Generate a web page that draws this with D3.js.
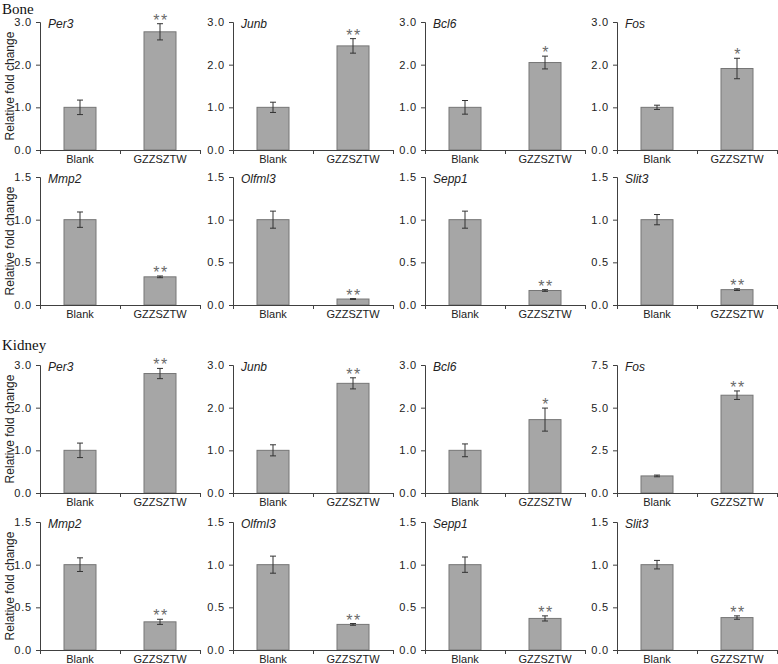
<!DOCTYPE html>
<html><head><meta charset="utf-8">
<script src="https://cdn.jsdelivr.net/npm/d3@7"></script>
<style>body{margin:0;background:#fff}</style>
</head><body>
<svg id="c" width="778" height="664"></svg>
<script>
const categories = ["Blank", "GZZSZTW"];
const genes = ["Per3", "Junb", "Bcl6", "Fos", "Mmp2", "Olfml3", "Sepp1", "Slit3"];
const sections = ["Bone", "Kidney"];

const boneBlank    = [1.00, 1.00, 1.00, 1.00, 1.00, 1.00, 1.00, 1.00];
const boneBlankErr = [0.17, 0.12, 0.16, 0.05, 0.09, 0.10, 0.10, 0.06];
const boneGZZ      = [2.77, 2.44, 2.05, 1.91, 0.33, 0.07, 0.17, 0.18];
const boneGZZErr   = [0.19, 0.17, 0.15, 0.24, 0.01, 0.005, 0.01, 0.01];
const boneSig      = ["**", "**", "*", "*", "**", "**", "**", "**"];
const boneYMax     = [3.0, 3.0, 3.0, 3.0, 1.5, 1.5, 1.5, 1.5];

const kidneyBlank    = [1.00, 1.00, 1.00, 1.00, 1.00, 1.00, 1.00, 1.00];
const kidneyBlankErr = [0.17, 0.13, 0.15, 0.05, 0.08, 0.10, 0.09, 0.05];
const kidneyGZZ      = [2.80, 2.57, 1.72, 5.73, 0.33, 0.30, 0.37, 0.38];
const kidneyGZZErr   = [0.12, 0.13, 0.27, 0.25, 0.03, 0.01, 0.03, 0.02];
const kidneySig      = ["**", "**", "*", "**", "**", "**", "**", "**"];
const kidneyYMax     = [3.0, 3.0, 3.0, 7.5, 1.5, 1.5, 1.5, 1.5];

const yTickSets = {"3": [0, 1, 2, 3], "1.5": [0, 0.5, 1, 1.5], "7.5": [0, 2.5, 5, 7.5]};
const yLabel = "Relative fold change";

const svg = d3.select("#c");
const colX = [40, 233, 425, 617];
const rowTop = [22, 177, 365, 522];
const plotW = 160, plotH = 128;
const sectionLabelY = [14, 350];

const sectionData = [
  {blank: boneBlank, blankErr: boneBlankErr, gzz: boneGZZ, gzzErr: boneGZZErr, sig: boneSig, ymax: boneYMax},
  {blank: kidneyBlank, blankErr: kidneyBlankErr, gzz: kidneyGZZ, gzzErr: kidneyGZZErr, sig: kidneySig, ymax: kidneyYMax}
];

sections.forEach((sec, si) => {
  svg.append("text").attr("x", 2).attr("y", sectionLabelY[si])
    .attr("font-family", "Liberation Serif, Times New Roman, serif")
    .attr("font-size", 15).attr("fill", "#111").text(sec);
  const sd = sectionData[si];
  genes.forEach((g, gi) => {
    const row = si * 2 + Math.floor(gi / 4);
    const col = gi % 4;
    const gx = colX[col], gy = rowTop[row];
    const p = svg.append("g").attr("transform", `translate(${gx},${gy})`);
    const x = d3.scaleBand().domain(categories).range([0, plotW]).paddingInner(0.6).paddingOuter(0.3);
    const y = d3.scaleLinear().domain([0, sd.ymax[gi]]).range([plotH, 0]);
    const vals = [sd.blank[gi], sd.gzz[gi]];
    const errs = [sd.blankErr[gi], sd.gzzErr[gi]];

    // bars
    p.selectAll("rect.bar").data(categories).join("rect")
      .attr("x", d => x(d)).attr("width", x.bandwidth())
      .attr("y", (d, i) => y(vals[i])).attr("height", (d, i) => plotH - y(vals[i]))
      .attr("fill", "#a6a6a6").attr("stroke", "#767676").attr("stroke-width", 1);

    // error bars
    const eb = p.selectAll("g.err").data(categories).join("g");
    eb.append("line")
      .attr("x1", d => x(d) + x.bandwidth() / 2).attr("x2", d => x(d) + x.bandwidth() / 2)
      .attr("y1", (d, i) => y(vals[i] + errs[i])).attr("y2", (d, i) => y(vals[i] - errs[i]))
      .attr("stroke", "#333").attr("stroke-width", 1);
    ["+", "-"].forEach(s => {
      eb.append("line")
        .attr("x1", d => x(d) + x.bandwidth() / 2 - 3).attr("x2", d => x(d) + x.bandwidth() / 2 + 3)
        .attr("y1", (d, i) => y(s === "+" ? vals[i] + errs[i] : vals[i] - errs[i]))
        .attr("y2", (d, i) => y(s === "+" ? vals[i] + errs[i] : vals[i] - errs[i]))
        .attr("stroke", "#333").attr("stroke-width", 1);
    });

    // significance
    p.append("text")
      .attr("x", x("GZZSZTW") + x.bandwidth() / 2 + 1)
      .attr("y", y(vals[1] + errs[1]) + 2)
      .attr("text-anchor", "middle")
      .attr("font-family", "Liberation Sans, Arial, sans-serif")
      .attr("font-size", 16).attr("letter-spacing", 1.5)
      .attr("fill", "#6a6a6a").text(sd.sig[gi]);

    // y axis
    const ticks = yTickSets[String(sd.ymax[gi])];
    const ya = d3.axisLeft(y).tickValues(ticks).tickFormat(d3.format(".1f")).tickSize(4).tickPadding(4);
    const yg = p.append("g").call(ya);
    yg.select(".domain").attr("stroke", "#404040").attr("d", `M-4,0.5H0.5V${plotH}`);
    yg.selectAll(".tick line").attr("stroke", "#404040");
    yg.selectAll("text").attr("font-family", "Liberation Sans, Arial, sans-serif")
      .attr("font-size", 11).attr("letter-spacing", 0.8).attr("fill", "#222");

    // x axis
    const xg = p.append("g").attr("transform", `translate(0,${plotH})`);
    xg.append("line").attr("x1", 0).attr("x2", plotW).attr("y1", 0.5).attr("y2", 0.5).attr("stroke", "#404040");
    xg.selectAll("line.t").data([0, plotW / 2, plotW]).join("line")
      .attr("x1", d => d + 0.5).attr("x2", d => d + 0.5).attr("y1", 0).attr("y2", 4).attr("stroke", "#404040");
    xg.selectAll("text").data(categories).join("text")
      .attr("x", d => x(d) + x.bandwidth() / 2).attr("y", 13)
      .attr("text-anchor", "middle")
      .attr("font-family", "Liberation Sans, Arial, sans-serif")
      .attr("font-size", 11).attr("fill", "#222").text(d => d);

    // gene label
    p.append("text").attr("x", 8).attr("y", 6)
      .attr("font-family", "Liberation Sans, Arial, sans-serif")
      .attr("font-style", "italic").attr("font-size", 12).attr("fill", "#222").text(g);

    if (col === 0) {
      svg.append("text")
        .attr("transform", `translate(${gx - 26},${gy + plotH / 2}) rotate(-90)`)
        .attr("text-anchor", "middle")
        .attr("font-family", "Liberation Sans, Arial, sans-serif")
        .attr("font-size", 12).attr("fill", "#222").text(yLabel);
    }
  });
});
</script>
</body></html>
